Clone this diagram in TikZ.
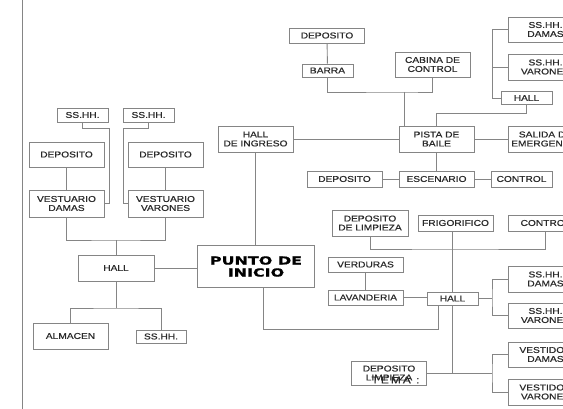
\documentclass[tikz,border=0pt]{standalone}
\usepackage{fontspec}
\setmainfont{Liberation Sans}[FakeStretch=1.2,FakeBold=0.5]
\newfontfamily\heavyfont{DejaVu Sans}[FakeStretch=1.45,FakeBold=1]
\definecolor{linegray}{HTML}{858585}
\definecolor{txtgray}{HTML}{2A2A2A}
\tikzset{
  caja/.style={draw=linegray, line width=0.9pt, fill=white, inner sep=0pt, minimum width=75pt, minimum height=26pt, align=center, text=txtgray, font=\fontsize{8.5}{9}\selectfont},
  caja1/.style={caja, minimum height=16pt},
  cajita/.style={caja, minimum width=51pt, minimum height=13pt},
  linea/.style={draw=linegray, line width=0.9pt},
}
\begin{document}
\begin{tikzpicture}[x=1pt, y=-1pt]
  \useasboundingbox (0,0) rectangle (563,409);
  \clip (0,0) rectangle (563,409);
  \fill[white] (0,0) rectangle (563,409);
  \draw[linea] (22,0) -- (22,409);
  % zona vestuarios
  \node[cajita, minimum height=14pt] (ssA) at (82.5,115) {SS.HH.};
  \node[cajita, minimum height=14pt] (ssB) at (148.5,115) {SS.HH.};
  \node[caja, minimum height=25pt] (depA) at (66.5,154.5) {DEPOSITO};
  \node[caja, minimum height=25pt] (depB) at (165.5,154.5) {DEPOSITO};
  \node[caja, minimum height=27pt] (vesD) at (66.5,203.5) {VESTUARIO\\DAMAS};
  \node[caja, minimum height=27pt] (vesV) at (165.5,203.5) {VESTUARIO\\VARONES};
  \node[caja, minimum width=76pt] (hallA) at (116,268) {HALL};
  \node[caja] (almacen) at (70.5,336) {ALMACEN};
  \node[cajita, minimum width=50pt] (ssC) at (161,336.5) {SS.HH.};
  \node[caja, minimum width=117pt, minimum height=42pt, font=\heavyfont\bfseries\fontsize{11}{12}\selectfont, text=black] (inicio) at (256,266.5) {PUNTO DE\\INICIO};
  \node[caja] (ingreso) at (255.5,139) {HALL\\DE INGRESO};
  % zona pista
  \node[caja1, minimum height=15pt] (depC) at (327,35.5) {DEPOSITO};
  \node[cajita] (barra) at (327.5,70.5) {BARRA};
  \node[caja, minimum height=25pt] (cabina) at (432.5,64.5) {CABINA DE\\CONTROL};
  \node[caja] (pista) at (436.5,139) {PISTA DE\\BAILE};
  \node[caja, minimum height=25pt] (ssD) at (545.5,29.5) {SS.HH.\\DAMAS};
  \node[caja] (ssE) at (545.5,67) {SS.HH.\\VARONES};
  \node[cajita] (hallB) at (526.5,98) {HALL};
  \node[caja] (salida) at (545.5,139) {SALIDA DE\\EMERGENCIA};
  \node[caja1] (escenario) at (436.5,179) {ESCENARIO};
  \node[caja1] (depD) at (344.5,179) {DEPOSITO};
  \node[caja1, minimum width=61pt] (control) at (521.5,179) {CONTROL};
  % zona servicio
  \node[caja, minimum width=76pt] (limpA) at (370,223) {DEPOSITO\\DE LIMPIEZA};
  \node[caja1] (frigo) at (455.5,223) {FRIGORIFICO};
  \node[caja1] (controlB) at (545.5,223) {CONTROL};
  \node[caja1, minimum height=15pt] (verduras) at (365.5,264.5) {VERDURAS};
  \node[caja1, minimum height=15pt] (lavanderia) at (365.5,297.5) {LAVANDERIA};
  \node[cajita] (hallC) at (452.5,298.5) {HALL};
  \node[caja] (ssF) at (545.5,279) {SS.HH.\\DAMAS};
  \node[caja, minimum height=25pt] (ssG) at (545.5,315.5) {SS.HH.\\VARONES};
  \node[caja, minimum height=25pt] (vestD) at (545.5,354.5) {VESTIDOR\\DAMAS};
  \node[caja] (vestV) at (545.5,392) {VESTIDOR\\VARONES};
  \node[caja, minimum height=24pt] (limpB) at (389,373) {DEPOSITO\\LIMPIEZA};
  \node[text=txtgray, font=\fontsize{10}{10}\selectfont\addfontfeature{LetterSpace=20}] (tema) at (395.5,380) {TEMA :};
  % uniones
  \coordinate (jA) at (109,128); \coordinate (jB) at (123,128);
  \coordinate (jC) at (116,240); \coordinate (jD) at (116,308);
  \coordinate (jE) at (404,92); \coordinate (jF) at (492,98);
  \coordinate (jG) at (436.5,113); \coordinate (jH) at (452.5,249);
  \coordinate (jI) at (492,298.5); \coordinate (jK) at (492,373);
  \coordinate (jL) at (263,329); \coordinate (jM) at (438,329);
  \draw[linea] (ssA.south) |- (jA) |- (vesD.east);
  \draw[linea] (ssB.south) |- (jB) |- (vesV.west);
  \draw[linea] (depA) -- (vesD);
  \draw[linea] (depB) -- (vesV);
  \draw[linea] (vesD.south) |- (jC) -| (vesV.south);
  \draw[linea] (hallA.north) -- (jC);
  \draw[linea] (hallA.east) -- (hallA.east -| inicio.west);
  \draw[linea] (hallA.south) -- (jD);
  \draw[linea] (almacen.north) |- (jD) -| (ssC.north);
  \draw[linea] (ingreso.south) -- (ingreso.south |- inicio.north);
  \draw[linea] (ingreso.east) -- (pista.west);
  \draw[linea] (depC) -- (barra);
  \draw[linea] (barra.south) |- (jE) -| (cabina.south);
  \draw[linea] (jE) -- (jE |- pista.north);
  \draw[linea] (ssD.west) -| (jF) -- (hallB.west);
  \draw[linea] (ssE.west) -- (ssE.west -| jF);
  \draw[linea] (hallB.south) |- (jG) -- (pista.north);
  \draw[linea] (pista.east) -- (salida.west);
  \draw[linea] (pista) -- (escenario);
  \draw[linea] (depD) -- (escenario) -- (control);
  \draw[linea] (limpA.south) |- (jH) -| (controlB.south);
  \draw[linea] (hallC.north |- frigo.south) -- (hallC.north);
  \draw[linea] (verduras) -- (lavanderia);
  \draw[linea] (lavanderia.east) -- (lavanderia.east -| hallC.west);
  \draw[linea] (hallC.east) -- (jI);
  \draw[linea] (ssF.west) -| (jI) |- (ssG.west);
  \draw[linea] (hallC.south) -- (hallC.south |- jK);
  \draw[linea] (limpB.east) -- (jK);
  \draw[linea] (vestD.west) -| (jK) |- (vestV.west);
  \draw[linea] ([xshift=7pt]inicio.south) -- (jL) -- (jM) -- ([xshift=-14.5pt]hallC.south);
\end{tikzpicture}
\end{document}
